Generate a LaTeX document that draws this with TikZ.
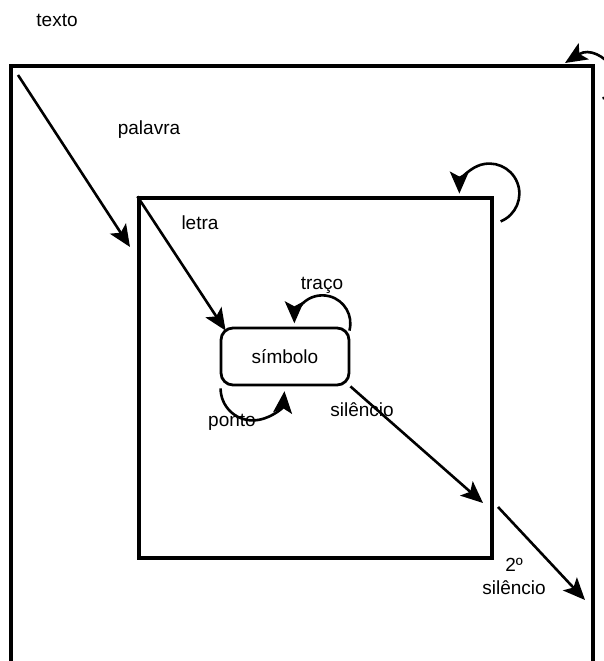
\documentclass[tikz,border=0pt]{standalone}
\usepackage{fontspec}
\setmainfont{Liberation Sans}
\usetikzlibrary{arrows.meta}

\begin{document}
\begin{tikzpicture}[x=1pt,y=1pt,
    every node/.style={font=\fontsize{19}{23}\selectfont},
    box/.style={draw,line width=3.2pt,inner sep=0pt},
    arr/.style={line width=2.6pt,-{Stealth[length=22pt,width=19pt,inset=5pt]}}]

  \useasboundingbox (0,0) rectangle (604,661);

  % the two frames and the symbol
  \node[box,minimum width=582pt,minimum height=615pt] (outer) at (302,287.5) {};
  \node[box,minimum width=353pt,minimum height=360pt] (inner) at (315.5,283) {};
  \node[draw,line width=2.8pt,rounded corners=12pt,
        minimum width=128pt,minimum height=57pt] (sym) at (285,304.5) {símbolo};

  % labels
  \node (texto)     at (57,641)  {texto};
  \node (palavra)   at (149,531) {palavra};
  \node (letra)     at (200,438) {letra};
  \node (traco)     at (322,376) {traço};
  \node (ponto)     at (232,239) {ponto};
  \node (silencio)  at (362,251) {silêncio};
  \node[align=center] (silencio2) at (514,85) {2º\\silêncio};

  % free ends of the straight arrows
  \coordinate (a1) at (18,586);
  \coordinate (a2) at (130,414);
  \coordinate (s1) at (483,158);
  \coordinate (s2) at (498,154);
  \coordinate (s3) at (585,61);

  \draw[arr] (a1) -- (a2);
  \draw[arr] (inner.north west) -- ([shift={(6,-4)}]sym.north west);
  \draw[arr] (sym.south east) -- (s1);
  \draw[arr] (s2) -- (s3);

  % loops
  \draw[arr] ([shift={(-1,-4)}]sym.north east) arc[start angle=-15,end angle=180,radius=28];
  \draw[arr] ([shift={(1,-2)}]sym.south west) arc[start angle=180,end angle=355,radius=32];
  \draw[arr] ([shift={(7,-25)}]inner.north east) arc[start angle=-68,end angle=180,radius=30];
  \draw[arr] ([shift={(8,-34)}]outer.north east) .. controls (640,572) and (600,620) .. (565,598);

\end{tikzpicture}
\end{document}
